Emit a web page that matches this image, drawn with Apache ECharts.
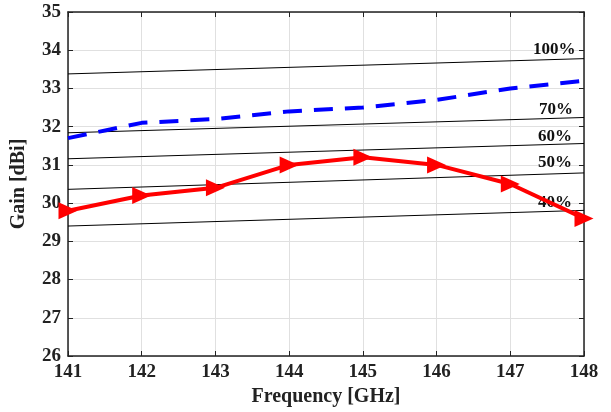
<!DOCTYPE html>
<html><head><meta charset="utf-8">
<script src="https://cdn.jsdelivr.net/npm/echarts@6/dist/echarts.min.js"></script>
<style>html,body{margin:0;padding:0;background:#fff}#c{width:611px;height:412px}</style>
</head><body><div id="c"></div>
<script>
const freqs = [141, 142, 143, 144, 145, 146, 147, 148];
const dashedGain = [31.7, 32.1, 32.2, 32.4, 32.5, 32.7, 33.0, 33.2];
const redGain = [29.8, 30.2, 30.4, 31.0, 31.2, 31.0, 30.5, 29.6];
const effLabels = ['100%', '70%', '60%', '50%', '40%'];
const effStart = [33.38, 31.84, 31.16, 30.36, 29.40];
const effEnd = [33.78, 32.24, 31.56, 30.79, 29.81];
const labelOffsets = [[-59, -9], [-53, -8], [-54, -7], [-54, -10], [-54, -8]];

const font = 'Liberation Serif';
const series = [];
effLabels.forEach((name, i) => {
  series.push({
    type: 'line', name: name, symbol: 'none', silent: true,
    data: [[freqs[0], effStart[i]], [freqs[freqs.length-1], effEnd[i]]],
    lineStyle: {color: '#000', width: 1},
    endLabel: {show: true, formatter: name, fontFamily: font, fontWeight: 'bold', fontSize: 17, color: '#111',
      offset: labelOffsets[i]},
    z: 2
  });
});
series.push({
  type: 'line', name: 'dashed', symbol: 'none',
  data: freqs.map((f, i) => [f, dashedGain[i]]),
  lineStyle: {color: '#0000ff', width: 4, type: [19, 12]},
  z: 3
});
series.push({
  type: 'line', name: 'red', symbol: 'triangle', symbolSize: [17, 19], symbolRotate: -90, showAllSymbol: true,
  data: freqs.map((f, i) => [f, redGain[i]]),
  lineStyle: {color: '#ff0000', width: 4},
  itemStyle: {color: '#ff0000'},
  z: 4
});

const gridLine = {show: true, lineStyle: {color: '#e0e0e0', width: 1}};
const chart = echarts.init(document.getElementById('c'));
chart.setOption({
  animation: false,
  grid: {left: 68, right: 27, top: 12, bottom: 55},
  xAxis: [{
    type: 'value', min: 141, max: 148, interval: 1,
    name: 'Frequency [GHz]', nameLocation: 'middle', nameGap: 31,
    nameTextStyle: {fontFamily: font, fontWeight: 'bold', fontSize: 20, color: '#222'},
    axisLine: {show: true, onZero: false, lineStyle: {color: '#222', width: 1.5}},
    axisTick: {show: true, inside: true, length: 5, lineStyle: {color: '#222'}},
    axisLabel: {fontFamily: font, fontWeight: 'bold', fontSize: 19, color: '#222', margin: 7},
    splitLine: gridLine
  }, {
    type: 'value', position: 'top', min: 141, max: 148, interval: 1,
    axisLine: {show: true, onZero: false, lineStyle: {color: '#222', width: 1.5}},
    axisTick: {show: true, inside: true, length: 5, lineStyle: {color: '#222'}},
    axisLabel: {show: false}, splitLine: {show: false}
  }],
  yAxis: [{
    type: 'value', min: 26, max: 35, interval: 1,
    name: 'Gain [dBi]', nameLocation: 'middle', nameGap: 39,
    nameTextStyle: {fontFamily: font, fontWeight: 'bold', fontSize: 20, color: '#222'},
    axisLine: {show: true, onZero: false, lineStyle: {color: '#222', width: 1.5}},
    axisTick: {show: true, inside: true, length: 5, lineStyle: {color: '#222'}},
    axisLabel: {fontFamily: font, fontWeight: 'bold', fontSize: 19, color: '#222', margin: 7},
    splitLine: gridLine
  }, {
    type: 'value', position: 'right', min: 26, max: 35, interval: 1,
    axisLine: {show: true, onZero: false, lineStyle: {color: '#222', width: 1.5}},
    axisTick: {show: true, inside: true, length: 5, lineStyle: {color: '#222'}},
    axisLabel: {show: false}, splitLine: {show: false}
  }],
  series: series
});
</script></body></html>
